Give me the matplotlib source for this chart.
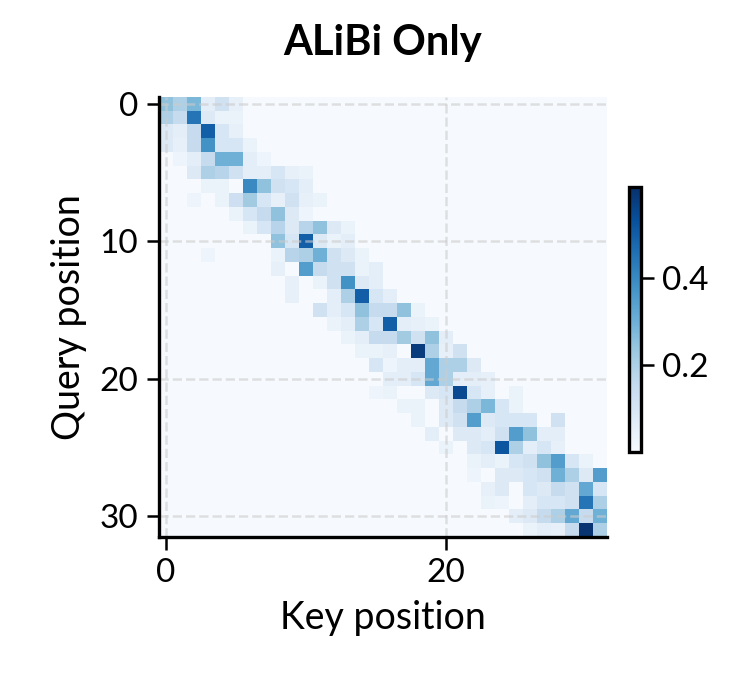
import numpy as np
import matplotlib
matplotlib.use("Agg")
import matplotlib.pyplot as plt

plt.rcParams['font.family'] = ['Lato', 'DejaVu Sans']

n = 32
background = 0.004
# (row, col, value) attention weights
entries = [
 (0,0,0.25),(0,1,0.2),(0,2,0.28),(0,3,0.06),(0,4,0.12),(0,5,0.05),
 (1,0,0.2),(1,1,0.15),(1,2,0.45),(1,3,0.08),(1,4,0.04),(1,5,0.04),
 (2,0,0.08),(2,1,0.06),(2,2,0.15),(2,3,0.5),(2,4,0.1),(2,5,0.05),
 (3,0,0.08),(3,1,0.05),(3,2,0.15),(3,3,0.38),(3,4,0.1),(3,5,0.1),(3,6,0.04),
 (4,1,0.03),(4,2,0.06),(4,3,0.15),(4,4,0.3),(4,5,0.3),(4,6,0.06),(4,7,0.03),
 (5,2,0.08),(5,3,0.2),(5,4,0.18),(5,5,0.12),(5,6,0.06),(5,7,0.06),(5,8,0.1),(5,9,0.05),(5,10,0.04),
 (6,3,0.04),(6,4,0.04),(6,6,0.4),(6,7,0.25),(6,8,0.12),(6,9,0.1),(6,10,0.06),
 (7,2,0.03),(7,4,0.04),(7,5,0.13),(7,6,0.22),(7,7,0.1),(7,8,0.05),(7,9,0.12),(7,10,0.05),(7,11,0.04),
 (8,5,0.04),(8,6,0.1),(8,7,0.15),(8,8,0.25),(8,9,0.08),(8,10,0.03),
 (9,6,0.04),(9,7,0.1),(9,8,0.18),(9,9,0.08),(9,10,0.18),(9,11,0.25),(9,12,0.08),(9,13,0.04),
 (10,8,0.25),(10,9,0.1),(10,10,0.5),(10,11,0.08),(10,12,0.04),(10,13,0.06),
 (11,3,0.03),(11,8,0.04),(11,9,0.18),(11,10,0.2),(11,11,0.3),(11,12,0.12),(11,13,0.08),(11,14,0.04),
 (12,8,0.05),(12,10,0.35),(12,11,0.15),(12,12,0.12),(12,13,0.12),(12,14,0.04),(12,15,0.06),
 (13,9,0.05),(13,11,0.04),(13,12,0.12),(13,13,0.38),(13,14,0.08),(13,15,0.06),
 (14,9,0.05),(14,12,0.06),(14,13,0.2),(14,14,0.5),(14,15,0.1),(14,16,0.06),
 (15,11,0.12),(15,12,0.06),(15,13,0.1),(15,14,0.25),(15,15,0.15),(15,16,0.15),(15,17,0.25),(15,18,0.04),
 (16,12,0.04),(16,13,0.06),(16,14,0.2),(16,15,0.1),(16,16,0.5),(16,17,0.06),(16,18,0.05),(16,19,0.04),
 (17,13,0.04),(17,14,0.06),(17,15,0.15),(17,16,0.15),(17,17,0.22),(17,18,0.12),(17,19,0.25),(17,20,0.06),
 (18,14,0.04),(18,15,0.04),(18,16,0.05),(18,18,0.58),(18,19,0.2),(18,20,0.05),(18,21,0.12),
 (19,15,0.1),(19,16,0.03),(19,17,0.06),(19,18,0.06),(19,19,0.32),(19,20,0.2),(19,21,0.2),(19,22,0.08),
 (20,16,0.06),(20,17,0.06),(20,18,0.1),(20,19,0.32),(20,20,0.2),(20,21,0.06),(20,22,0.06),(20,23,0.05),
 (21,15,0.03),(21,16,0.04),(21,19,0.08),(21,20,0.1),(21,21,0.55),(21,22,0.1),(21,23,0.05),(21,25,0.04),
 (22,17,0.04),(22,18,0.04),(22,20,0.08),(22,21,0.15),(22,22,0.2),(22,23,0.28),(22,24,0.1),(22,25,0.04),
 (23,18,0.04),(23,20,0.08),(23,21,0.12),(23,22,0.35),(23,23,0.08),(23,24,0.1),(23,25,0.1),(23,26,0.1),(23,28,0.12),
 (24,19,0.06),(24,21,0.08),(24,22,0.08),(24,23,0.06),(24,24,0.12),(24,25,0.35),(24,26,0.25),(24,27,0.06),(24,28,0.06),
 (25,20,0.04),(25,22,0.08),(25,23,0.1),(25,24,0.52),(25,25,0.2),(25,26,0.06),(25,27,0.1),(25,28,0.05),
 (26,22,0.04),(26,23,0.06),(26,24,0.04),(26,25,0.1),(26,26,0.12),(26,27,0.25),(26,28,0.35),(26,29,0.1),(26,30,0.04),
 (27,22,0.03),(27,24,0.08),(27,25,0.08),(27,26,0.1),(27,27,0.12),(27,28,0.3),(27,29,0.2),(27,30,0.08),(27,31,0.35),
 (28,23,0.05),(28,24,0.08),(28,26,0.1),(28,27,0.08),(28,28,0.15),(28,29,0.12),(28,30,0.32),(28,31,0.1),
 (29,23,0.04),(29,24,0.03),(29,26,0.06),(29,27,0.1),(29,28,0.1),(29,29,0.12),(29,30,0.45),(29,31,0.2),
 (30,25,0.06),(30,26,0.08),(30,27,0.15),(30,28,0.2),(30,29,0.32),(30,30,0.15),(30,31,0.3),
 (31,26,0.04),(31,27,0.06),(31,28,0.05),(31,29,0.15),(31,30,0.6),(31,31,0.2),
]

attn = np.full((n, n), background)
for r, c, v in entries:
    attn[r, c] = v

fig = plt.figure(figsize=(753/300, 694/300), dpi=300)
ax = fig.add_axes([159/753, 1-537/694, (607-159)/753, (537-97)/694])
im = ax.imshow(attn, cmap='Blues', aspect='auto', vmin=0.0, vmax=0.61,
               interpolation='nearest')
ax.set_xticks([0, 20])
ax.set_yticks([0, 10, 20, 30])
ax.grid(True, color='#cccccc', linestyle='--', linewidth=0.6, alpha=0.6)
for s in ['top', 'right']:
    ax.spines[s].set_visible(False)
for s in ['left', 'bottom']:
    ax.spines[s].set_linewidth(0.8)
ax.tick_params(labelsize=8, width=0.6, length=3, pad=2)
ax.set_xlabel('Key position', fontsize=9, labelpad=3)
ax.set_ylabel('Query position', fontsize=9, labelpad=3)
ax.set_title('ALiBi Only', fontsize=10, fontweight='bold', pad=10)

cax = fig.add_axes([629/753, 1-452/694, 12/753, (452-187)/694])
cb = fig.colorbar(im, cax=cax)
cb.set_ticks([0.2, 0.4])
cb.ax.tick_params(labelsize=8, width=0.6, length=3, pad=2)
cb.outline.set_linewidth(0.8)

fig.savefig('out.png', dpi=300)
